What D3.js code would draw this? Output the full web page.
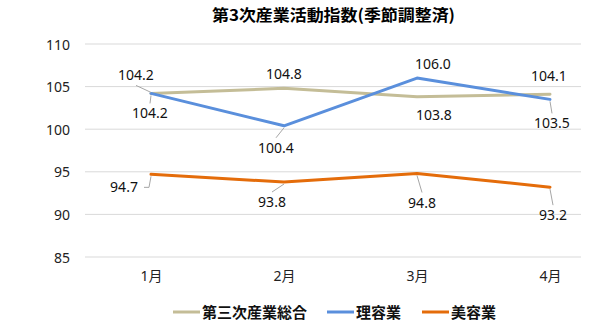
<!DOCTYPE html>
<html><head><meta charset="utf-8">
<script src="https://cdn.jsdelivr.net/npm/d3@7"></script>
<style>body{margin:0;background:#fff}svg{display:block}</style>
</head><body>
<svg id="c" width="600" height="322"></svg>
<script>
const title = "第3次産業活動指数(季節調整済)";
const categories = ["1月", "2月", "3月", "4月"];
const seriesNames = ["第三次産業総合", "理容業", "美容業"];
const sougou = [104.2, 104.8, 103.8, 104.1];
const riyou = [104.2, 100.4, 106.0, 103.5];
const biyou = [94.7, 93.8, 94.8, 93.2];
const yTicks = [85, 90, 95, 100, 105, 110];

const colors = ["#c4bd97", "#5a8fdc", "#e46c0a"];
const seriesValues = [sougou, riyou, biyou];
// label placement (dx, dy from point to label centre) and leader flag
const labelLayout = [
  [[-15,-18,1],[0,-14,0],[17,18,0],[-1,-18,0]],
  [[-1,20,1],[-8,22,1],[16,-14,0],[2,24,1]],
  [[-27,13,2],[-12,20,1],[5,29,1],[3,28,1]]
];

const svg = d3.select("#c");
const font = "'Noto Sans','Noto Sans CJK JP',sans-serif";
const x = d3.scalePoint().domain(categories).range([151, 550]);
const y = d3.scaleLinear().domain([85, 110]).range([257, 44]);
const gridX0 = 85, gridX1 = 581;

// title
svg.append("text").attr("x", 212).attr("y", 21)
  .attr("textLength", 243).attr("lengthAdjust", "spacingAndGlyphs")
  .style("font-family", "'Noto Sans CJK JP',sans-serif").style("font-size", "16px")
  .style("font-weight", "bold").attr("fill", "#000").text(title);

// gridlines
svg.append("g").selectAll("line").data(yTicks).join("line")
  .attr("x1", gridX0).attr("x2", gridX1)
  .attr("y1", d => y(d)).attr("y2", d => y(d))
  .attr("stroke", "#d9d9d9").attr("stroke-width", 1);

// y axis labels
const yAxis = d3.axisLeft(y).tickValues(yTicks).tickSize(0).tickPadding(0);
const gy = svg.append("g").attr("transform", "translate(70,0)").call(yAxis);
gy.select(".domain").remove();
gy.selectAll("text").style("font-family", font).style("font-size", "14px").attr("fill", "#222").attr("dy", "0.36em");

// x axis labels
const xAxis = d3.axisBottom(x).tickSize(0).tickPadding(0);
const gx = svg.append("g").attr("transform", "translate(0,270)").call(xAxis);
gx.select(".domain").remove();
gx.selectAll("text").style("font-family", font).style("font-size", "14px").attr("fill", "#222").attr("dy", "0.75em");

// lines
const line = d3.line().x((d, i) => x(categories[i])).y(d => y(d));
seriesValues.forEach((vals, s) => {
  svg.append("path").datum(vals).attr("d", line)
    .attr("fill", "none").attr("stroke", colors[s]).attr("stroke-width", 3)
    .attr("stroke-linejoin", "round").attr("stroke-linecap", "round");
});

// data labels + leaders
const lw = 36, lh = 14;
seriesValues.forEach((vals, s) => {
  vals.forEach((v, i) => {
    const px = x(categories[i]), py = y(v);
    const [dx, dy, lead] = labelLayout[s][i];
    const cx = px + dx, cy = py + dy;
    if (lead === 1) {
      const ey = dy > 0 ? cy - lh / 2 - 3 : cy + lh / 2 + 3;
      svg.append("line").attr("x1", cx).attr("y1", ey).attr("x2", px).attr("y2", py + (dy > 0 ? 2 : -1))
        .attr("stroke", "#a6a6a6").attr("stroke-width", 1);
    } else if (lead === 2) {
      svg.append("polyline").attr("points", `${cx + lw/2 + 2},${cy} ${px - 2},${cy} ${px},${py + 2}`)
        .attr("fill", "none").attr("stroke", "#a6a6a6").attr("stroke-width", 1);
    }
    svg.append("text").attr("x", cx).attr("y", cy + 5).attr("text-anchor", "middle")
      .style("font-family", font).style("font-size", "14px").attr("fill", "#111")
      .text(d3.format(".1f")(v));
  });
});

// legend
const legendX = [173, 327, 422];
const lg = svg.append("g");
seriesNames.forEach((n, s) => {
  lg.append("line").attr("x1", legendX[s]).attr("x2", legendX[s] + 27).attr("y1", 312).attr("y2", 312)
    .attr("stroke", colors[s]).attr("stroke-width", 3);
  lg.append("text").attr("x", legendX[s] + 29).attr("y", 317.5)
    .style("font-family", "'Noto Sans CJK JP',sans-serif").style("font-size", "15px").style("font-weight", "bold")
    .attr("fill", "#111").text(n);
});
</script>
</body></html>
